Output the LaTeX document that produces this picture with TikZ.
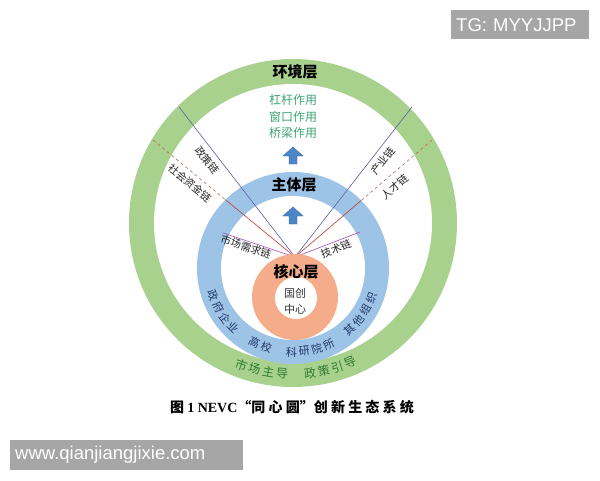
\documentclass[tikz,border=0pt]{standalone}
\usepackage{fontspec}
\setmainfont{Liberation Serif}
\setsansfont{Liberation Sans}
\newfontfamily\cjk{Noto Sans CJK SC}
\usetikzlibrary{calc}
\definecolor{ringgreen}{HTML}{A9D18E}
\definecolor{ringblue}{HTML}{9DC3E6}
\definecolor{ringorange}{HTML}{F4AC8A}
\definecolor{linkblue}{HTML}{5B5EA6}
\definecolor{linkred}{HTML}{C0392B}
\definecolor{linkdash}{HTML}{B8605A}
\definecolor{linkpurple}{HTML}{A347BA}
\definecolor{effectgreen}{HTML}{3FA577}
\definecolor{bodyblue}{HTML}{22386A}
\definecolor{envgreen}{HTML}{2F7A34}
\definecolor{arrowblue}{HTML}{4A86C8}
\definecolor{markgray}{HTML}{A6A6A6}
\newcommand{\capgap}{\hspace{3.2pt}}
\tikzset{
  linklabel/.style={font=\cjk\fontsize{10.5}{10.5}\selectfont, text=black!85, inner sep=0pt},
  layertitle/.style={font=\cjk\bfseries\fontsize{15}{15}\selectfont, inner sep=0pt},
  effect/.style={font=\cjk\fontsize{12}{12}\selectfont, text=effectgreen, inner sep=0pt},
  ringtext/.style={font=\cjk\fontsize{11}{11}\selectfont, inner sep=0pt},
  upblock/.style={fill=arrowblue, draw=arrowblue!80!black, line width=0.4pt},
  watermark/.style={fill=markgray, text=white, font=\sffamily\fontsize{18.5}{18.5}\selectfont,
    inner sep=0pt, anchor=north west}
}

\begin{document}
\begin{tikzpicture}[x=1pt,y=-1pt]

  \fill[white] (0,0) rectangle (600,480);
  \useasboundingbox (0,0) rectangle (600,480);

  %% rings
  \fill[ringgreen] (293,223) circle (164);
  \fill[white] (293,223) circle (139);
  \fill[ringblue] (293,268) circle (96);
  \fill[white] (293,268) circle (72);

  \coordinate (hub) at (295,257);
  \coordinate (zcl) at (179,107);  %% left, outer
  \coordinate (zjl) at (153,140);
  \coordinate (cyl) at (412,107);  %% right, outer
  \coordinate (rcl) at (432,140);
  \coordinate (xql) at (223,233);  %% inner
  \coordinate (jsl) at (360,232);

  \draw[linkblue, line width=0.6pt] (zcl) -- (hub);
  \draw[linkblue, line width=0.6pt] (cyl) -- (hub);
  \draw[linkdash, dashed, line width=0.6pt] (zjl) -- ($(zjl)!0.51!(hub)$);
  \draw[linkred, line width=0.6pt] ($(zjl)!0.51!(hub)$) -- (hub);
  \draw[linkdash, dashed, line width=0.6pt] (rcl) -- ($(rcl)!0.517!(hub)$);
  \draw[linkred, line width=0.6pt] ($(rcl)!0.517!(hub)$) -- (hub);
  \draw[linkpurple, line width=0.6pt] (xql) -- (hub);
  \draw[linkpurple, line width=0.6pt] (jsl) -- (hub);

  %% core
  \fill[ringorange] (295,297) circle (43);
  \fill[white] (296,298) circle (21);

  %% link labels
  \node[linklabel, rotate=-52] (zc) at (207,160) {政策链};
  \node[linklabel, rotate=-39.5] (zj) at (190,183) {社会资金链};
  \node[linklabel, rotate=52] (cy) at (383,161) {产业链};
  \node[linklabel, rotate=40.5] (rc) at (395,187) {人才链};
  \node[linklabel, rotate=-18] (xq) at (246,247) {市场需求链};
  \node[linklabel, rotate=21] (js) at (336,249) {技术链};

  %% titles
  \node[layertitle] (env) at (295,72) {环境层};
  \node[effect] (e1) at (293,100) {杠杆作用};
  \node[effect] (e2) at (293,117) {窗口作用};
  \node[effect] (e3) at (293,133) {桥梁作用};
  \node[layertitle] (body) at (294,185) {主体层};
  \node[layertitle] (core) at (296,272) {核心层};
  \node[font=\cjk\fontsize{11}{11}\selectfont, text=black!80, align=center, inner sep=0pt]
    (nevc) at (295,301) {国创\\[5pt]中心};

  \foreach \y in {156,216}
    \filldraw[upblock] (289,\y+8) -- (289,\y) -- (283,\y) -- (293,\y-9)
      -- (303,\y) -- (297,\y) -- (297,\y+8) -- cycle;

  %% text round the rings
  \foreach \c [count=\i from 0] in {政,府,企,业,{},高,校,{},科,研,院,所,{},其,他,组,织}
  {
    \pgfmathsetmacro\a{199+\i*8.75}
    \node[ringtext, text=bodyblue, rotate=\a+90] (b\i)
      at ({293+84*cos(\a)},{268-84*sin(\a)}) {\c};
  }
  \foreach \c [count=\i from 0] in {市,场,主,导,{},政,策,引,导}
  {
    \pgfmathsetmacro\a{250+\i*5.3}
    \node[ringtext, text=envgreen, font=\cjk\fontsize{12}{12}\selectfont, rotate=\a+90] (g\i)
      at ({293+151*cos(\a)},{223-151*sin(\a)}) {\c};
  }

  %% caption
  \node[font=\fontsize{14}{14}\selectfont\bfseries, inner sep=0pt] (cap) at (292,407)
    {{\cjk 图}\capgap 1 NEVC{\cjk “同\capgap 心\capgap 圆”创\capgap 新\capgap 生\capgap 态\capgap 系\capgap 统}};

  %% watermarks
  \node[watermark, minimum width=138pt, minimum height=29pt, text width=134pt, align=left]
    (tg) at (451,10) {\hspace{3pt}TG: MYYJJPP};
  \node[watermark, minimum width=233pt, minimum height=30pt, text width=229pt, align=left]
    (www) at (10,440) {\hspace{3pt}www.qianjiangjixie.com};

\end{tikzpicture}
\end{document}
